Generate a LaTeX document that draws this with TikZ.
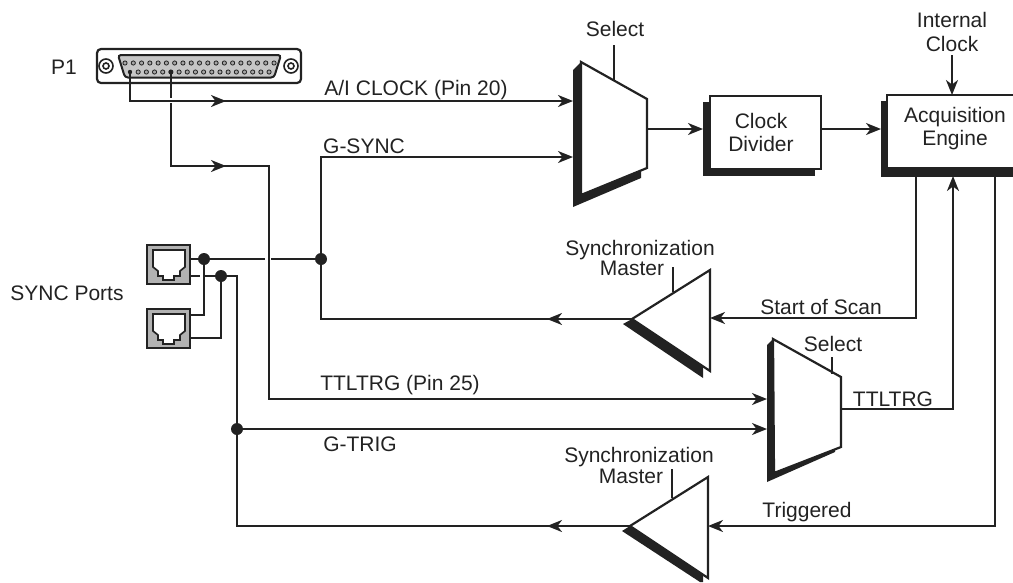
\documentclass[tikz,border=0pt]{standalone}
\usepackage{fontspec}
\setmainfont{Liberation Sans}
\usetikzlibrary{arrows.meta}
\definecolor{ink}{HTML}{222222}
\tikzset{
  wire/.style={draw=ink,line width=2pt,line cap=butt,line join=miter},
  arrowed/.style={wire,-{Stealth[length=15pt,width=12pt,inset=4.5pt]}},
  lab/.style={text=ink,font=\fontsize{21}{23}\selectfont,inner sep=0pt,anchor=center},
  body/.style={draw=ink,line width=2.2pt,fill=white,line join=miter},
  shade/.style={fill=ink,draw=none},
  dot/.style={circle,fill=ink,draw=none,minimum size=12pt,inner sep=0pt},
  boxnode/.style={draw=ink,line width=2.2pt,fill=white,inner sep=0pt},
  jack/.pic={
    \fill[gray!60!white,draw=ink,line width=2.4pt] (0,0) rectangle (43,39);
    \filldraw[fill=white,draw=ink,line width=1.7pt] (6,5) -- (38,5) -- (38,22) -- (33,26) -- (33,31) -- (27,31) -- (27,35) -- (16,35) -- (16,31) -- (11,31) -- (11,26) -- (6,22) -- cycle;
  },
}
\begin{document}
\begin{tikzpicture}[x=1pt,y=-1pt]
\useasboundingbox (0,0) rectangle (1013,582);
\clip (0,0) rectangle (1013,582);
% connector P1
\draw[draw=ink,line width=2.2pt,rounded corners=4pt,fill=white] (97,49) rectangle (301,83);
\draw[ink,line width=1.6pt] (106,66) circle (7) (106,66) circle (3);
\draw[ink,line width=1.6pt] (291,66) circle (7) (291,66) circle (3);
\filldraw[fill=gray!45!white,draw=ink,line width=2pt,rounded corners=3pt] (118,55) -- (281,55) -- (274,77.5) -- (125,77.5) -- cycle;
\foreach \i in {0,...,18} \filldraw[fill=gray!70!white,draw=ink,line width=.8pt] ({125+\i*8.28},63) circle (2.1);
\foreach \i in {1,...,17} \filldraw[fill=gray!70!white,draw=ink,line width=.8pt] ({130+\i*8.18},72) circle (2.1);
\fill[ink] (130,72) circle (2.2) (171,72) circle (2.2);
\coordinate (pinA) at (130,72);
\coordinate (pinB) at (171,72);
\node[lab] (p1) at (64,67) {P1};
% jacks
\pic (jackA) at (147,245) {jack};
\pic (jackB) at (147,309) {jack};
\node[lab] (syncports) at (67,293) {SYNC Ports};
% mux 1
\fill[shade] (573,70) -- (581,62) -- (581,195) -- (641,170) -- (641,178) -- (573,207) -- cycle;
\filldraw[body] (581,62) -- (647,99) -- (647,168) -- (581,195) -- cycle;
\coordinate (muxAin1) at (573,101);
\coordinate (muxAin2) at (573,157);
\coordinate (muxAout) at (647,129);
\coordinate (muxAsel) at (614,81);
\node[lab] (selA) at (615,29) {Select};
\draw[wire] (614,45) -- (muxAsel);
% clock divider
\fill[shade] (703,102) rectangle (815,176);
\node[boxnode,minimum width=111pt,minimum height=73pt] (clk) at (765.5,132.5) {};
\node[lab] (clkA) at (761,121) {Clock};
\node[lab] (clkB) at (761,144) {Divider};
% acquisition engine
\fill[shade] (881,101) rectangle (1025,177);
\node[boxnode,minimum width=140pt,minimum height=73pt] (acq) at (957,131.5) {};
\node[lab] (acqA) at (955,117) {Acquisition};
\node[lab] (acqB) at (955,140) {Engine};
\node[lab] (intA) at (952,20) {Internal};
\node[lab] (intB) at (952,44) {Clock};
\coordinate (intTop) at (952,55);
\draw[arrowed] (intTop) -- (952,95);
\draw[arrowed] (muxAout) -- (703,129);
\draw[arrowed] (clk.east |- 0,129) -- (881,129);
% triangle 1
\fill[shade] (623,324) -- (632,319) -- (703,367) -- (703,378) -- cycle;
\filldraw[body] (632,319) -- (710,270) -- (710,371) -- cycle;
\node[lab] (synA) at (640,250) {Synchronization};
\node[lab] (masA) at (632,268) {Master};
\draw[wire] (673,267) -- (673,292);
% mux 2
\fill[shade] (767,345) -- (773,339) -- (774,473) -- (835,449) -- (835,452) -- (767,482) -- cycle;
\filldraw[body] (773,339) -- (841,377) -- (841,447) -- (774,473) -- cycle;
\node[lab] (selB) at (833,344) {Select};
\draw[wire] (832,357) -- (832,374);
% triangle 2
\fill[shade] (622,531) -- (630,526) -- (703,573) -- (703,582) -- (700,582) -- cycle;
\filldraw[body] (630,526) -- (708,477) -- (708,578) -- cycle;
\node[lab] (synB) at (639,457) {Synchronization};
\node[lab] (masB) at (631,476) {Master};
\draw[wire] (672,469) -- (672,498);
% wires from P1
\draw[arrowed] (pinA) -- (130,101) -- (muxAin1);
\draw[arrowed] (130,101) -- (226,101);
\draw[wire] (pinB) -- (171,98);
\draw[wire] (171,103) -- (171,166) -- (269,166) -- (269,399) -- (700,399);
\draw[arrowed] (171,166) -- (226,166);
\draw[arrowed] (700,399) -- (767,399);
\node[lab] (aiclock) at (416,90) {A/I CLOCK (Pin 20)};
\node[lab] (ttlpin) at (400,385) {TTLTRG (Pin 25)};
% sync wiring
\node[dot] (dA) at (204,259) {};
\node[dot] (dB) at (221,276) {};
\node[dot] (dC) at (321,259) {};
\node[dot] (dD) at (237,429) {};
\draw[wire] (190,259) -- (265,259);
\draw[wire] (271,259) -- (dC);
\draw[wire] (190,276) -- (200,276);
\draw[wire] (204,276) -- (237,276) -- (dD);
\draw[wire] (dA) -- (204,315) -- (190,315);
\draw[wire] (dB) -- (221,338) -- (190,338);
\draw[arrowed] (dC) -- (321,157) -- (muxAin2);
\node[lab] (gsync) at (364,146) {G-SYNC};
\draw[wire] (dC) -- (321,319) -- (632,319);
\draw[arrowed] (632,319) -- (547,319);
% G-TRIG
\draw[arrowed] (dD) -- (767,429);
\node[lab] (gtrig) at (360,444) {G-TRIG};
\draw[wire] (dD) -- (237,526) -- (630,526);
\draw[arrowed] (630,526) -- (547,526);
% engine outputs
\draw[arrowed] (916,176) -- (916,318) -- (710,318);
\node[lab] (sos) at (821,307) {Start of Scan};
\draw[arrowed] (841,409) -- (953,409) -- (953,176);
\node[lab] (ttl) at (893,399) {TTLTRG};
\draw[arrowed] (995,176) -- (995,526) -- (708,526);
\node[lab] (trg) at (807,512) {Triggered};
\end{tikzpicture}
\end{document}
